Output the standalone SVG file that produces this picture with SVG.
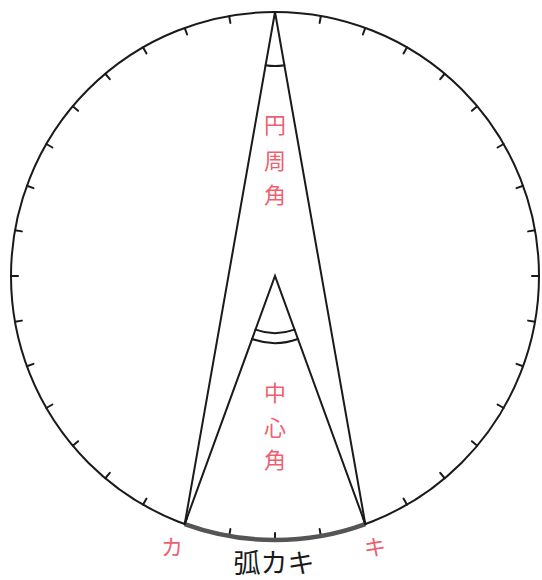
<svg xmlns="http://www.w3.org/2000/svg" xmlns:xlink="http://www.w3.org/1999/xlink" width="542" height="580" viewBox="0 0 542 580">
<style>
.s{fill:none;stroke:#1a1a1a;stroke-width:2;stroke-linecap:round}
.r{fill:#ee6070;font-family:"Noto Sans CJK JP",sans-serif;font-size:22px;text-anchor:middle}
.k{fill:#1a1a1a;font-family:"Noto Sans CJK JP",sans-serif;font-size:27px;text-anchor:middle}
</style>
<defs>
<line id="t" x1="539" y1="276" x2="532" y2="276" class="s"/>
</defs>
<g id="circle">
<circle cx="275" cy="276" r="264" class="s"/>
<use xlink:href="#t"/>
<use xlink:href="#t" transform="rotate(10 275 276)"/>
<use xlink:href="#t" transform="rotate(20 275 276)"/>
<use xlink:href="#t" transform="rotate(30 275 276)"/>
<use xlink:href="#t" transform="rotate(40 275 276)"/>
<use xlink:href="#t" transform="rotate(50 275 276)"/>
<use xlink:href="#t" transform="rotate(60 275 276)"/>
<use xlink:href="#t" transform="rotate(70 275 276)"/>
<use xlink:href="#t" transform="rotate(80 275 276)"/>
<use xlink:href="#t" transform="rotate(90 275 276)"/>
<use xlink:href="#t" transform="rotate(100 275 276)"/>
<use xlink:href="#t" transform="rotate(110 275 276)"/>
<use xlink:href="#t" transform="rotate(120 275 276)"/>
<use xlink:href="#t" transform="rotate(130 275 276)"/>
<use xlink:href="#t" transform="rotate(140 275 276)"/>
<use xlink:href="#t" transform="rotate(150 275 276)"/>
<use xlink:href="#t" transform="rotate(160 275 276)"/>
<use xlink:href="#t" transform="rotate(170 275 276)"/>
<use xlink:href="#t" transform="rotate(180 275 276)"/>
<use xlink:href="#t" transform="rotate(190 275 276)"/>
<use xlink:href="#t" transform="rotate(200 275 276)"/>
<use xlink:href="#t" transform="rotate(210 275 276)"/>
<use xlink:href="#t" transform="rotate(220 275 276)"/>
<use xlink:href="#t" transform="rotate(230 275 276)"/>
<use xlink:href="#t" transform="rotate(240 275 276)"/>
<use xlink:href="#t" transform="rotate(250 275 276)"/>
<use xlink:href="#t" transform="rotate(260 275 276)"/>
<use xlink:href="#t" transform="rotate(280 275 276)"/>
<use xlink:href="#t" transform="rotate(290 275 276)"/>
<use xlink:href="#t" transform="rotate(300 275 276)"/>
<use xlink:href="#t" transform="rotate(310 275 276)"/>
<use xlink:href="#t" transform="rotate(320 275 276)"/>
<use xlink:href="#t" transform="rotate(330 275 276)"/>
<use xlink:href="#t" transform="rotate(340 275 276)"/>
<use xlink:href="#t" transform="rotate(350 275 276)"/>
</g>
<g id="arc-kaki">
<path d="M184.7 524.1 A264 264 0 0 0 365.3 524.1" fill="none" stroke="#555" stroke-width="4.5"/>
</g>
<g id="connectors">
<path d="M184.7 524.1 L275 12 L365.3 524.1" class="s" stroke-linejoin="miter"/>
<path d="M184.7 524.1 L275 276 L365.3 524.1" class="s" stroke-linejoin="miter"/>
<path d="M265.6 65.2 A54 54 0 0 0 284.4 65.2" class="s"/>
<path d="M255.5 329.6 A57 57 0 0 0 294.5 329.6" class="s"/>
<path d="M252.1 339 A67 67 0 0 0 297.9 339" class="s"/>
</g>
<g id="label-inscribed">
<text class="r" x="275" y="133">円</text>
<text class="r" x="275" y="169">周</text>
<text class="r" x="275" y="203">角</text>
</g>
<g id="label-central">
<text class="r" x="275" y="401">中</text>
<text class="r" x="275" y="436">心</text>
<text class="r" x="275" y="468">角</text>
</g>
<g id="label-ka"><text class="r" x="172" y="555" font-size="20">カ</text></g>
<g id="label-ki"><text class="r" x="375" y="555" font-size="20">キ</text></g>
<g id="label-arc"><text class="k" x="274" y="573">弧カキ</text></g>
</svg>
